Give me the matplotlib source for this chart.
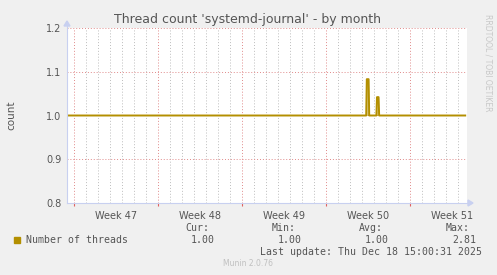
import matplotlib.pyplot as plt

# data: days since start of week 47, thread count
days = [-0.6, 24.35, 24.4, 24.55, 24.6, 25.2, 25.25, 25.38, 25.43, 32.6]
threads = [1.0, 1.0, 1.083, 1.083, 1.0, 1.0, 1.042, 1.042, 1.0, 1.0]

week_labels = ["Week 47", "Week 48", "Week 49", "Week 50", "Week 51"]
y_ticks = [0.8, 0.9, 1.0, 1.1, 1.2]

legend_name = "Number of threads"
cur, vmin, avg, vmax = "1.00", "1.00", "1.00", "2.81"
last_update = "Last update: Thu Dec 18 15:00:31 2025"

bg = "#f0f0f0"
line_color = "#b38f00"
text_color = "#555555"

fig = plt.figure(figsize=(4.97, 2.75), dpi=100, facecolor=bg)
W, H = 497, 275
ax = fig.add_axes([67 / W, 1 - 203 / H, 400 / W, 175 / H])
ax.set_facecolor("white")

x_min, x_max = -0.583, 32.75
ax.set_xlim(x_min, x_max)
ax.set_ylim(0.8, 1.2)

# grid: gray daily lines, red weekly lines
for d in range(0, 33):
    if d % 7 == 0:
        continue
    ax.axvline(d, color="#bdbdbd", lw=0.7, ls=(0, (1, 2)), zorder=1)
for d in range(0, 33, 7):
    ax.axvline(d, color="#e08a8a", lw=0.7, ls=(0, (1, 2)), zorder=1)
for y in y_ticks:
    ax.axhline(y, color="#e08a8a", lw=0.7, ls=(0, (1, 2)), zorder=1)

ax.fill_between(days, 1.0, threads, color=line_color, alpha=0.45, lw=0, zorder=2)
ax.plot(days, threads, color=line_color, lw=1.4, zorder=3)

for s in ax.spines.values():
    s.set_visible(False)

ax.set_yticks(y_ticks)
ax.set_yticklabels(["%.1f" % v for v in y_ticks])
ax.tick_params(axis="y", length=0, labelsize=7, labelcolor=text_color, pad=4)
ax.set_xticks(range(0, 33, 7))
ax.set_xticklabels([])
ax.tick_params(axis="x", length=2, color="#e06060", direction="out", pad=0)
for i, lab in enumerate(week_labels):
    ax.text(3.5 + 7 * i, -0.045, lab, transform=ax.get_xaxis_transform(),
            ha="center", va="top", fontsize=7, color=text_color)

# axis lines with arrows
axis_col = "#c8d0f0"
fig.add_artist(plt.Line2D([67 / W, 470 / W], [1 - 203 / H] * 2, color=axis_col, lw=0.8))
fig.add_artist(plt.Line2D([67 / W] * 2, [1 - 203 / H, 1 - 24 / H], color=axis_col, lw=0.8))
fig.add_artist(plt.Polygon([[468 / W, 1 - 200 / H], [468 / W, 1 - 206 / H], [473 / W, 1 - 203 / H]],
                           closed=True, color=axis_col, transform=fig.transFigure))
fig.add_artist(plt.Polygon([[64 / W, 1 - 26 / H], [70 / W, 1 - 26 / H], [67 / W, 1 - 21 / H]],
                           closed=True, color=axis_col, transform=fig.transFigure))

fig.text(248 / W, 1 - 19 / H, "Thread count 'systemd-journal' - by month",
         ha="center", va="center", fontsize=9, color=text_color)
fig.text(11 / W, 1 - 115 / H, "count", rotation=90, ha="center", va="center",
         fontsize=7.5, color=text_color)
fig.text(488 / W, 1 - 14 / H, "RRDTOOL / TOBI OETIKER", rotation=270, ha="center",
         va="top", fontsize=5.5, color="#c8c8c8")

mono = dict(family="DejaVu Sans Mono", fontsize=7.1, color=text_color)
fig.patches.append(plt.Rectangle((14 / W, 1 - 243 / H), 6 / W, 6 / H,
                                 color=line_color, transform=fig.transFigure, figure=fig))
fig.text(26 / W, 1 - 240 / H, legend_name, ha="left", va="center", **mono)
for lab, val, xr in [("Cur:", cur, 215), ("Min:", vmin, 302), ("Avg:", avg, 389), ("Max:", vmax, 476)]:
    fig.text((xr - 6) / W, 1 - 228 / H, lab, ha="right", va="center", **mono)
    fig.text(xr / W, 1 - 240 / H, val, ha="right", va="center", **mono)
fig.text(482 / W, 1 - 252 / H, last_update, ha="right", va="center", **mono)
fig.text(248 / W, 1 - 264 / H, "Munin 2.0.76", ha="center", va="center",
         fontsize=5.5, color="#c0c0c0")

fig.savefig("out.png", dpi=100, facecolor=bg)
